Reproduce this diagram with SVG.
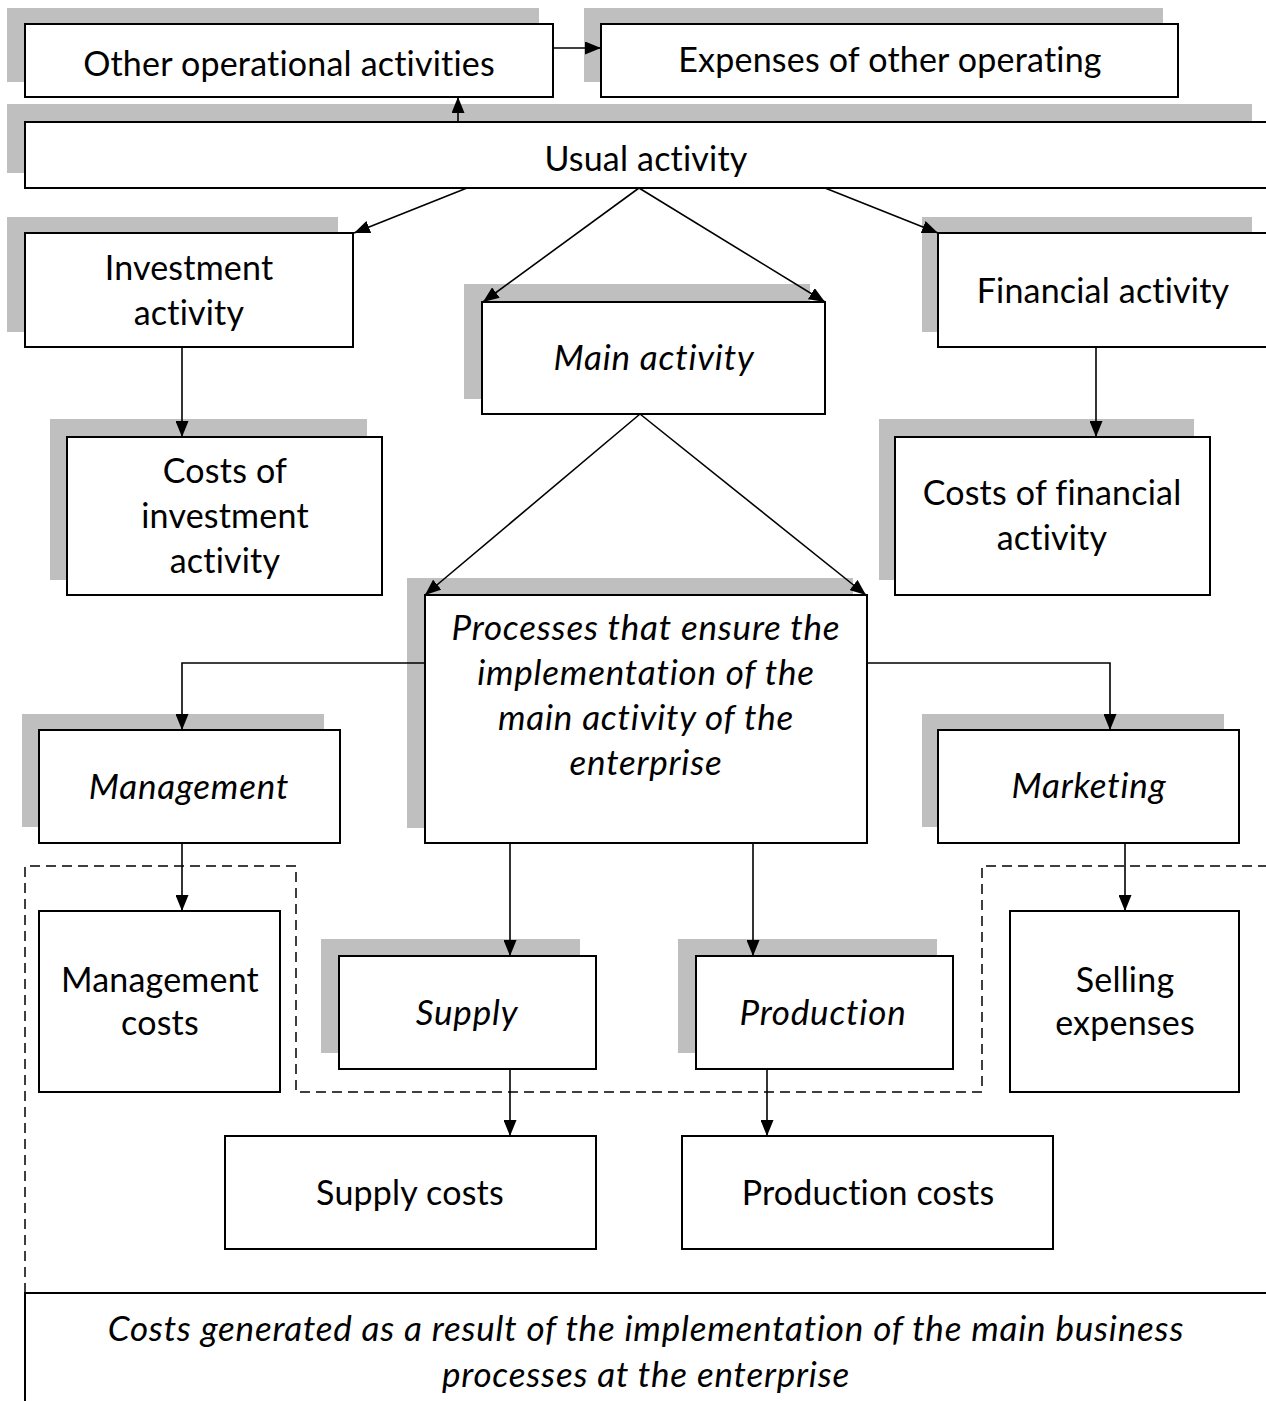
<svg xmlns="http://www.w3.org/2000/svg" width="1266" height="1401" viewBox="0 0 1266 1401">
<style>
.sh{fill:#bfbfbf;stroke:none}
.bx{fill:#ffffff;stroke:#000;stroke-width:2}
.t{font-family:Lato,"Liberation Sans",sans-serif;font-size:34px;letter-spacing:0.2px;fill:#000;text-anchor:middle}
.i{font-style:italic;font-size:35px;letter-spacing:0.8px}
.c{fill:none;stroke:#000;stroke-width:1.6;marker-end:url(#ah)}
.d{fill:none;stroke:#000;stroke-width:1.5;stroke-dasharray:10 6}
</style>
<defs>
<marker id="ah" markerUnits="userSpaceOnUse" markerWidth="16" markerHeight="13" viewBox="0 0 16 13" refX="16" refY="6.5" orient="auto">
<path d="M0,0 L16,6.5 L0,13 z" fill="#000"/>
</marker>
</defs>
<rect width="1266" height="1401" fill="#fff"/>

<g id="other-operational">
<rect class="sh" x="7" y="8" width="532" height="74"/>
<rect class="bx" x="25" y="24" width="528" height="73"/>
<text class="t" x="289" y="76">Other operational activities</text>
</g>
<g id="expenses-other">
<rect class="sh" x="584" y="8" width="579" height="74"/>
<rect class="bx" x="601" y="24" width="577" height="73"/>
<text class="t" x="890" y="72">Expenses of other operating</text>
</g>
<g id="usual">
<rect class="sh" x="7" y="104" width="1245" height="69"/>
<rect class="bx" x="25" y="122" width="1260" height="66"/>
<text class="t" x="646" y="171">Usual activity</text>
</g>
<g id="investment">
<rect class="sh" x="7" y="217" width="331" height="115"/>
<rect class="bx" x="25" y="233" width="328" height="114"/>
<text class="t" x="189" y="280">Investment</text>
<text class="t" x="189" y="325">activity</text>
</g>
<g id="main">
<rect class="sh" x="464" y="284" width="346" height="115"/>
<rect class="bx" x="482" y="302" width="343" height="112"/>
<text class="t i" x="654" y="370">Main activity</text>
</g>
<g id="financial">
<rect class="sh" x="922" y="217" width="330" height="115"/>
<rect class="bx" x="938" y="233" width="340" height="114"/>
<text class="t" x="1103" y="303">Financial activity</text>
</g>
<g id="costs-investment">
<rect class="sh" x="50" y="419" width="317" height="161"/>
<rect class="bx" x="67" y="437" width="315" height="158"/>
<text class="t" x="225" y="483">Costs of</text>
<text class="t" x="225" y="528">investment</text>
<text class="t" x="225" y="573">activity</text>
</g>
<g id="costs-financial">
<rect class="sh" x="879" y="419" width="315" height="161"/>
<rect class="bx" x="895" y="437" width="315" height="158"/>
<text class="t" x="1052" y="505">Costs of financial</text>
<text class="t" x="1052" y="550">activity</text>
</g>
<g id="processes">
<rect class="sh" x="407" y="578" width="446" height="250"/>
<rect class="bx" x="425" y="595" width="442" height="248"/>
<text class="t i" x="646" y="640">Processes that ensure the</text>
<text class="t i" x="646" y="685">implementation of the</text>
<text class="t i" x="646" y="730">main activity of the</text>
<text class="t i" x="646" y="775">enterprise</text>
</g>
<g id="management">
<rect class="sh" x="22" y="714" width="302" height="113"/>
<rect class="bx" x="39" y="730" width="301" height="113"/>
<text class="t i" x="189" y="799">Management</text>
</g>
<g id="marketing">
<rect class="sh" x="922" y="714" width="302" height="113"/>
<rect class="bx" x="938" y="730" width="301" height="113"/>
<text class="t i" x="1089" y="798">Marketing</text>
</g>
<g id="management-costs">
<rect class="bx" x="39" y="911" width="241" height="181"/>
<text class="t" x="160" y="992">Management</text>
<text class="t" x="160" y="1035">costs</text>
</g>
<g id="supply">
<rect class="sh" x="321" y="939" width="259" height="114"/>
<rect class="bx" x="339" y="956" width="257" height="113"/>
<text class="t i" x="467" y="1025">Supply</text>
</g>
<g id="production">
<rect class="sh" x="678" y="939" width="259" height="114"/>
<rect class="bx" x="696" y="956" width="257" height="113"/>
<text class="t i" x="823" y="1025">Production</text>
</g>
<g id="selling-expenses">
<rect class="bx" x="1010" y="911" width="229" height="181"/>
<text class="t" x="1125" y="992">Selling</text>
<text class="t" x="1125" y="1035">expenses</text>
</g>
<g id="supply-costs">
<rect class="bx" x="225" y="1136" width="371" height="113"/>
<text class="t" x="410" y="1205">Supply costs</text>
</g>
<g id="production-costs">
<rect class="bx" x="682" y="1136" width="371" height="113"/>
<text class="t" x="868" y="1205">Production costs</text>
</g>
<g id="costs-generated">
<rect class="bx" x="25" y="1293" width="1260" height="130"/>
<text class="t i" x="646" y="1341">Costs generated as a result of the implementation of the main business</text>
<text class="t i" x="646" y="1387">processes at the enterprise</text>
</g>

<g id="dashed-boundary">
<path class="d" d="M25,1293 V866 H296 V1092 H982 V866 H1270"/>
</g>

<g id="connectors">
<path class="c" d="M553,48 H601"/>
<path class="c" d="M458,122 V97"/>
<path class="c" d="M467,188 L354,233"/>
<path class="c" d="M639,188 L483,302"/>
<path class="c" d="M639,188 L825,302"/>
<path class="c" d="M825,188 L938,233"/>
<path class="c" d="M182,347 V437"/>
<path class="c" d="M1096,347 V437"/>
<path class="c" d="M640,414 L425,595"/>
<path class="c" d="M640,414 L866,595"/>
<path class="c" d="M425,663 H182 V730"/>
<path class="c" d="M867,663 H1110 V730"/>
<path class="c" d="M182,843 V911"/>
<path class="c" d="M510,843 V956"/>
<path class="c" d="M753,843 V956"/>
<path class="c" d="M1125,843 V911"/>
<path class="c" d="M510,1069 V1136"/>
<path class="c" d="M767,1069 V1136"/>
</g>
</svg>
